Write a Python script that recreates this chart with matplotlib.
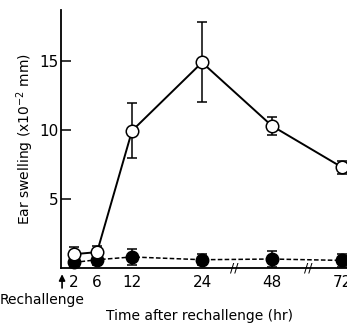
import matplotlib
matplotlib.use('Agg')
import matplotlib.pyplot as plt

# hours after rechallenge and ear swelling (x10^-2 mm)
hours = [2, 6, 12, 24, 48, 72]
open_mean = [1.0, 1.15, 9.95, 14.9, 10.3, 7.3]
open_err = [0.5, 0.45, 2.0, 2.9, 0.65, 0.45]
filled_mean = [0.4, 0.6, 0.8, 0.6, 0.65, 0.55]
filled_err = [0.3, 0.4, 0.6, 0.4, 0.55, 0.45]
tick_labels = ['2', '6', '12', '24', '48', '72']


def hour_pos(h):
    # broken axis: linear up to 24 hr, then 24 hr per 12 units
    return h if h <= 24 else 24 + (h - 24) / 2.0


xpos = [hour_pos(h) for h in hours]

fig = plt.figure(figsize=(3.47, 3.25), dpi=100)
ax = fig.add_axes([0.176, 0.1754, 0.824, 0.7936])

ax.errorbar(xpos, filled_mean, yerr=filled_err, fmt='o', color='black',
            linestyle=(0, (3, 1.5)), lw=1.1, ms=9, capsize=3.6, capthick=1.1,
            elinewidth=1.1, clip_on=False, zorder=2)
ax.errorbar(xpos, open_mean, yerr=open_err, fmt='o', color='black',
            mfc='white', mec='black', mew=1.1, linestyle='-', lw=1.4, ms=9,
            capsize=3.6, capthick=1.1, elinewidth=1.1, clip_on=False, zorder=3)

ax.set_xlim(-0.17, 48.86)
ax.set_ylim(0, 18.7)
ax.set_xticks(xpos)
ax.set_xticklabels(tick_labels, fontsize=11)
ax.tick_params(axis='x', length=0, pad=5)
ax.set_yticks([5, 10, 15])
ax.set_yticklabels(['5', '10', '15'], fontsize=11)
ax.tick_params(axis='y', direction='in', length=7, width=1.1, pad=1.5)
for side in ['top', 'right']:
    ax.spines[side].set_visible(False)
for side in ['left', 'bottom']:
    ax.spines[side].set_linewidth(1.3)

ax.set_ylabel('Ear swelling (x10$^{-2}$ mm)', fontsize=10, labelpad=3)

# axis break marks
for bx in [29.5, 42.2]:
    ax.text(bx, 0, '//', fontsize=9, ha='center', va='center',
            clip_on=False, zorder=5)

ax.annotate('', xy=(0, -0.45), xytext=(0, -1.45),
            xycoords='data', textcoords='data',
            arrowprops=dict(arrowstyle='-|>', color='black', lw=1.2,
                            mutation_scale=9, shrinkA=0, shrinkB=0),
            annotation_clip=False)
fig.text(0.0, 0.078, 'Rechallenge', fontsize=10, ha='left', va='center')
fig.text(0.575, 0.028, 'Time after rechallenge (hr)', fontsize=10,
         ha='center', va='center')

fig.savefig('out.png', dpi=100)
plt.close()
